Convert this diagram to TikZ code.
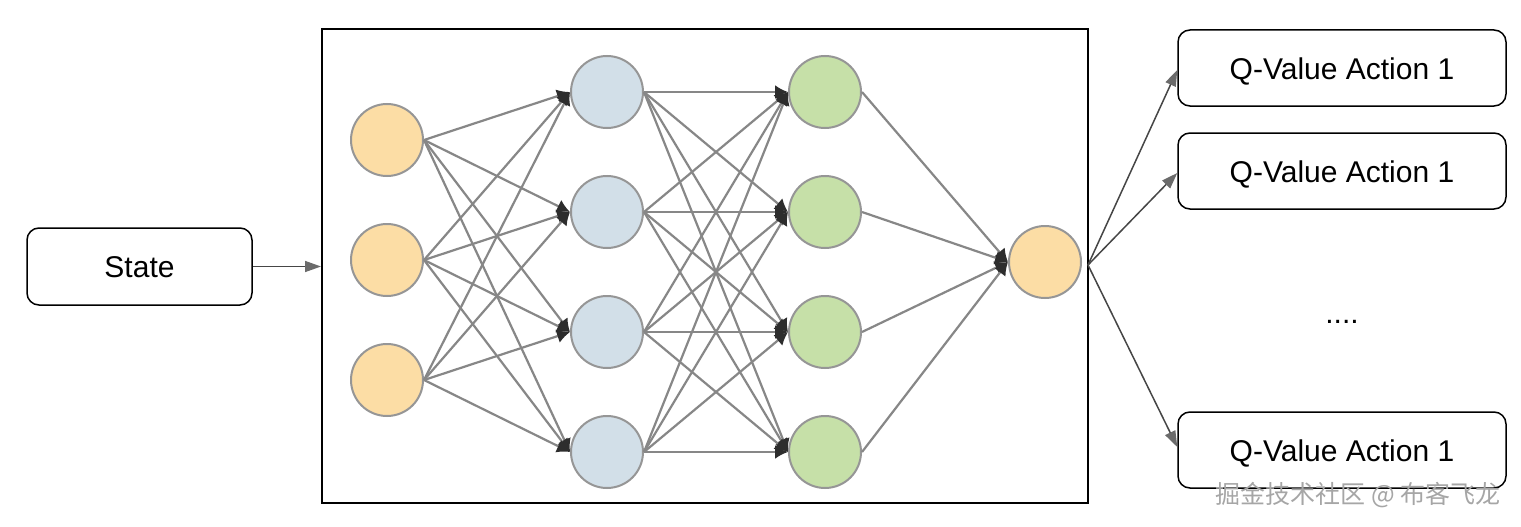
\documentclass[tikz,border=0pt]{standalone}
\usepackage{fontspec}
\setmainfont{Liberation Sans}
\newfontfamily\cjkfont{Noto Sans CJK SC}
\usetikzlibrary{arrows.meta}
\definecolor{orangeF}{RGB}{252,221,165}
\definecolor{blueF}{RGB}{210,223,232}
\definecolor{greenF}{RGB}{198,224,168}
\definecolor{nborder}{RGB}{150,150,150}
\definecolor{edgegray}{RGB}{135,135,135}
\definecolor{tipdark}{RGB}{45,45,45}
\definecolor{arrowgray}{RGB}{70,70,70}
\begin{document}
\begin{tikzpicture}[x=1pt,y=-1pt,
  neuron/.style={circle, minimum size=72pt, inner sep=0pt, draw=nborder, line width=2pt},
  nedge/.style={draw=edgegray, line width=2.2pt, -{Latex[length=13pt,width=14pt,color=tipdark]}},
  rbox/.style={draw=black, line width=1.5pt, rounded corners=12pt, inner sep=0pt, text height=22pt, text depth=0pt, font=\fontsize{30}{36}\selectfont},
  link/.style={draw=arrowgray, line width=1.5pt, -{Triangle[length=16pt,width=11pt,color=arrowgray!80]}}
]
\useasboundingbox (0,0) rectangle (1521,527);
\fill[white] (0,0) rectangle (1521,527);

% network frame
\node[draw=black, line width=2pt, minimum width=766pt, minimum height=474pt, inner sep=0pt] (frame) at (705,266) {};

% State box
\node[rbox, minimum width=225pt, minimum height=77pt] (state) at (139.5,266.5) {State};

% Q boxes
\node[rbox, minimum width=328pt, minimum height=76pt] (q1) at (1342,68) {Q-Value Action 1};
\node[rbox, minimum width=328pt, minimum height=76pt] (q2) at (1342,171) {Q-Value Action 1};
\node[rbox, minimum width=328pt, minimum height=76pt] (q3) at (1342,450) {Q-Value Action 1};
\node[font=\fontsize{30}{36}\selectfont] (dots) at (1342,322) {....};

% neurons
\node[neuron, fill=orangeF] (a1) at (387,140) {};
\node[neuron, fill=orangeF] (a2) at (387,260) {};
\node[neuron, fill=orangeF] (a3) at (387,380) {};
\foreach \i/\y in {1/92,2/212,3/332,4/452} {
  \node[neuron, fill=blueF] (b\i) at (607,\y) {};
  \node[neuron, fill=greenF] (c\i) at (825,\y) {};
}
\node[neuron, fill=orangeF] (o) at (1045,262) {};

% edges
\foreach \i in {1,2,3} \foreach \j in {1,2,3,4} \draw[nedge] (a\i.east) -- (b\j.west);
\foreach \i in {1,2,3,4} \foreach \j in {1,2,3,4} \draw[nedge] (b\i.east) -- (c\j.west);
\foreach \i in {1,2,3,4} \draw[nedge] (c\i.east) -- (o.west);

% outer links
\draw[link] (state.east) -- (state.east -| frame.west);
\coordinate (outpt) at (1088,265);
\draw[link] (outpt) -- ([yshift=-2pt]q1.west);
\draw[link] (outpt) -- ([yshift=-2pt]q2.west);
\draw[link] (outpt) -- ([yshift=3pt]q3.west);

% watermark
\node[font=\cjkfont\fontsize{25}{30}\selectfont, text=gray!70, anchor=east] (wm) at (1504,495) {掘金技术社区 @ 布客飞龙};
\end{tikzpicture}
\end{document}
